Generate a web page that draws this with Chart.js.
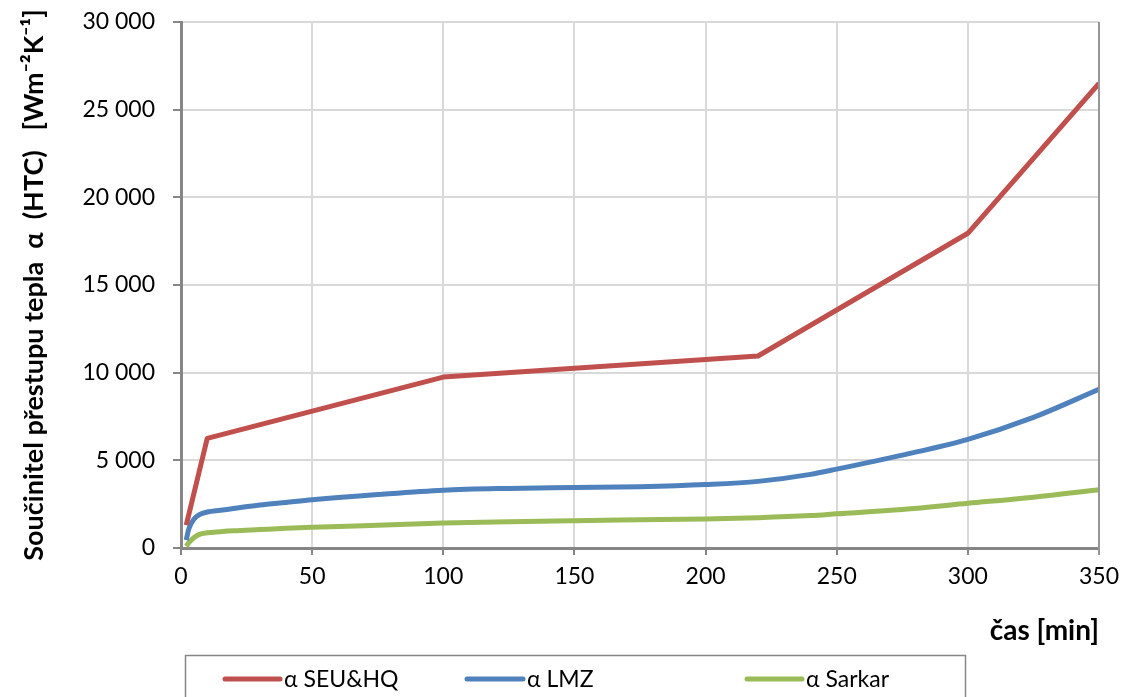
<!DOCTYPE html>
<html>
<head>
<meta charset="utf-8">
<script src="https://cdn.jsdelivr.net/npm/chart.js@4.4.1/dist/chart.umd.min.js"></script>
<style>
  html, body { margin: 0; padding: 0; background: #fff; }
  #wrap { width: 1122px; height: 697px; position: relative; }
</style>
</head>
<body>
<div id="wrap"><canvas id="htcChart" width="1122" height="697"></canvas></div>
<script>
// === data ===
const seuTime = [2, 10, 100, 220, 300, 350];
const seuHtc = [1300, 6250, 9750, 10950, 17950, 26500];

const curveTime = [2, 3, 5, 7, 10, 15, 20, 30, 40, 50, 75, 100, 125, 150, 175, 200, 220, 240, 250, 275, 300, 325, 350];
const lmzHtc = [450, 1100, 1650, 1900, 2050, 2150, 2250, 2450, 2600, 2750, 3050, 3300, 3400, 3450, 3500, 3620, 3800, 4200, 4500, 5300, 6200, 7450, 9050];
const sarkarHtc = [100, 300, 600, 780, 870, 930, 980, 1050, 1120, 1180, 1300, 1420, 1500, 1560, 1610, 1660, 1730, 1850, 1950, 2200, 2550, 2900, 3330];

const seriesLabels = ["α SEU&HQ", "α LMZ", "α Sarkar"];
const seriesColors = ["#c0504d", "#4f81bd", "#9bbb59"];

const xTitle = "čas [min]";
const yTitle = "Součinitel přestupu tepla  α  (HTC)   [Wm⁻²K⁻¹]";

const FONT = "Lato, 'Open Sans', sans-serif";

const toPoints = (xs, ys) => xs.map((x, i) => ({ x: x, y: ys[i] }));
const fmtThousands = v => String(v).replace(/\B(?=(\d{3})+(?!\d))/g, " ");

// legend box drawn like the Excel one, under the x title
const legendBox = {
    id: "legendBox",
    afterDraw(chart) {
        const ctx = chart.ctx;
        ctx.save();
        ctx.strokeStyle = "#868686";
        ctx.lineWidth = 1.5;
        ctx.strokeRect(185.5, 655.5, 780, 60);
        const items = [
            { x0: 225, x1: 280, tx: 284 },
            { x0: 467, x1: 523, tx: 527 },
            { x0: 747, x1: 802, tx: 806 }
        ];
        chart.data.datasets.forEach((ds, i) => {
            const it = items[i];
            ctx.strokeStyle = ds.borderColor;
            ctx.lineWidth = 5;
            ctx.lineCap = "round";
            ctx.beginPath();
            ctx.moveTo(it.x0, 679);
            ctx.lineTo(it.x1, 679);
            ctx.stroke();
            ctx.fillStyle = "#000";
            ctx.font = "23px " + FONT;
            ctx.textBaseline = "middle";
            ctx.fillText(ds.label, it.tx, 680);
        });
        // right border of the plot
        const a = chart.chartArea;
        ctx.strokeStyle = "#969696";
        ctx.lineWidth = 2;
        ctx.lineCap = "butt";
        ctx.beginPath();
        ctx.moveTo(a.right, a.top);
        ctx.lineTo(a.right, a.bottom + 7);
        ctx.stroke();
        ctx.restore();
    }
};

const ctx = document.getElementById("htcChart").getContext("2d");

new Chart(ctx, {
    type: "line",
    data: {
        datasets: [
            { label: seriesLabels[0], data: toPoints(seuTime, seuHtc), borderColor: seriesColors[0] },
            { label: seriesLabels[1], data: toPoints(curveTime, lmzHtc), borderColor: seriesColors[1], cubicInterpolationMode: "monotone" },
            { label: seriesLabels[2], data: toPoints(curveTime, sarkarHtc), borderColor: seriesColors[2], cubicInterpolationMode: "monotone" }
        ]
    },
    options: {
        responsive: false,
        animation: false,
        datasets: {
            line: { borderWidth: 5, pointRadius: 0, fill: false, borderJoinStyle: "round" }
        },
        layout: { padding: { left: 0, right: 23, top: 22, bottom: 49 } },
        plugins: {
            legend: { display: false },
            tooltip: { enabled: false }
        },
        scales: {
            x: {
                type: "linear",
                min: 0,
                max: 350,
                ticks: {
                    stepSize: 50,
                    padding: 8,
                    color: "#000",
                    font: { family: FONT, size: 23 }
                },
                grid: { color: "#d9d9d9", lineWidth: 2, tickColor: "#868686", tickLength: 7 },
                border: { color: "#868686", width: 3 },
                title: {
                    display: true,
                    text: xTitle,
                    align: "end",
                    color: "#000",
                    font: { family: FONT, size: 28, weight: "bold" },
                    padding: { top: 0, bottom: 0 }
                },
                afterFit: s => {
                    s.height = 100;
                    s.paddingLeft = 0;
                    s.paddingRight = 0;
                }
            },
            y: {
                min: 0,
                max: 30000,
                ticks: {
                    stepSize: 5000,
                    padding: 18,
                    color: "#000",
                    font: { family: FONT, size: 23 },
                    callback: v => fmtThousands(v)
                },
                grid: { color: "#d9d9d9", lineWidth: 2, tickColor: "#868686", tickLength: 8 },
                border: { color: "#868686", width: 3 },
                title: {
                    display: true,
                    text: yTitle,
                    color: "#000",
                    font: { family: FONT, size: 27, weight: "bold" },
                    padding: { top: 18, bottom: 0 }
                },
                afterFit: s => {
                    s.width = 181;
                    s.paddingTop = 0;
                    s.paddingBottom = 0;
                }
            }
        }
    },
    plugins: [legendBox]
});
</script>
</body>
</html>
